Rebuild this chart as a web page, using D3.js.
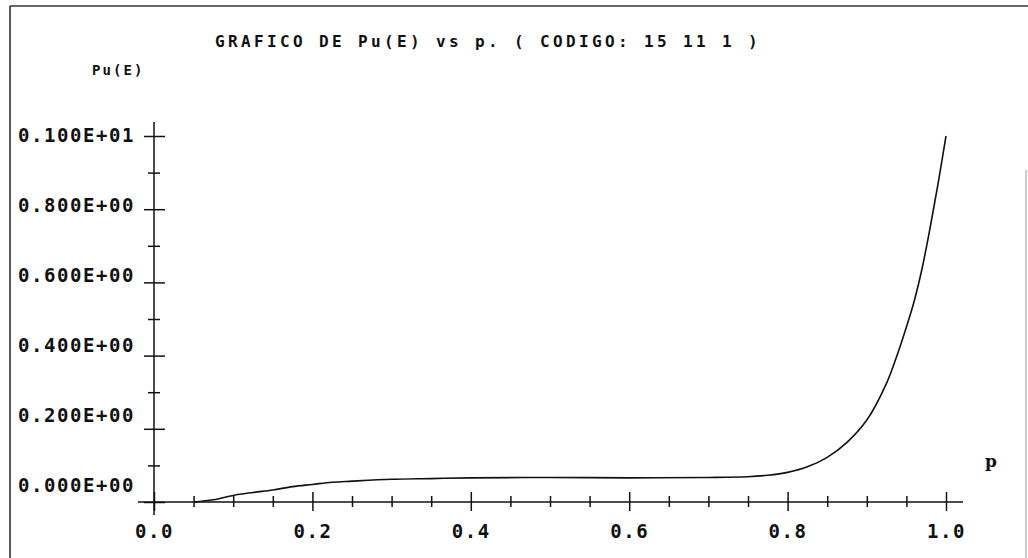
<!DOCTYPE html>
<html>
<head>
<meta charset="utf-8">
<script src="https://cdn.jsdelivr.net/npm/d3@7"></script>
<style>
	body { margin: 0; background: #fff; }
	svg { display: block; }
	text { font-family: "DejaVu Sans Mono", monospace; fill: #111; }
	.tick-label { font-size: 19px; font-weight: bold; letter-spacing: 1.56px; }
	.title { font-size: 16px; font-weight: bold; letter-spacing: 3.37px; }
	.ylab { font-size: 14px; font-weight: bold; letter-spacing: 2.1px; }
	.xlab { font-family: "DejaVu Serif", serif; font-size: 17px; font-weight: bold; }
</style>
</head>
<body>
<svg id="chart" width="1028" height="558"></svg>
<script>
// values
var pValues = [0.05, 0.075, 0.1, 0.125, 0.15, 0.175, 0.2, 0.225, 0.25, 0.3, 0.35, 0.4, 0.5, 0.6, 0.7, 0.75, 0.775, 0.8, 0.825, 0.85, 0.875, 0.9, 0.925, 0.94, 0.95, 0.96, 0.97, 0.98, 0.99, 1.0];
var puValues = [0.0, 0.006, 0.018, 0.026, 0.033, 0.042, 0.048, 0.054, 0.057, 0.062, 0.064, 0.066, 0.067, 0.066, 0.067, 0.069, 0.073, 0.081, 0.096, 0.122, 0.163, 0.224, 0.325, 0.412, 0.478, 0.55, 0.64, 0.75, 0.87, 1.0];
var xTicks = [0, 0.2, 0.4, 0.6, 0.8, 1.0];
var xTickLabels = ['0.0', '0.2', '0.4', '0.6', '0.8', '1.0'];
var yTicks = [0, 0.2, 0.4, 0.6, 0.8, 1.0];
var yTickLabels = ['0.000E+00', '0.200E+00', '0.400E+00', '0.600E+00', '0.800E+00', '0.100E+01'];
var titleText = 'GRAFICO DE Pu(E) vs p. ( CODIGO: 15 11 1 )';

var svg = d3.select('#chart');

var x = d3.scaleLinear().domain([0, 1]).range([154, 946]);
var y = d3.scaleLinear().domain([0, 1]).range([502, 136]);
// the old plotter put the labels on their own spacing
var yLab = d3.scaleLinear().domain([0, 1]).range([492, 142]);

// scanned frame
svg.append('line').attr('x1', 10).attr('y1', 6).attr('x2', 1028).attr('y2', 6)
	.attr('stroke', '#333').attr('stroke-width', 1.5);
svg.append('line').attr('x1', 10).attr('y1', 6).attr('x2', 10).attr('y2', 558)
	.attr('stroke', '#222').attr('stroke-width', 1.5);
svg.append('line').attr('x1', 1026).attr('y1', 170).attr('x2', 1026).attr('y2', 558)
	.attr('stroke', '#999').attr('stroke-width', 1);

svg.append('text').attr('class', 'title').attr('x', 215).attr('y', 47).text(titleText);
svg.append('text').attr('class', 'ylab').attr('x', 92).attr('y', 75).text('Pu(E)');
svg.append('text').attr('class', 'xlab').attr('x', 985).attr('y', 467).text('p');

// axes lines
svg.append('line').attr('x1', 138).attr('y1', y(0)).attr('x2', 963).attr('y2', y(0))
	.attr('stroke', '#111').attr('stroke-width', 1.5);
svg.append('line').attr('x1', x(0)).attr('y1', 122).attr('x2', x(0)).attr('y2', 515)
	.attr('stroke', '#111').attr('stroke-width', 1.5);

var xAxis = d3.axisBottom(x).tickValues(d3.range(0, 21).map(function (i) { return i / 20; }))
	.tickSize(0).tickFormat('');
var gx = svg.append('g').attr('transform', 'translate(0,' + y(0) + ')').call(xAxis);
gx.select('.domain').remove();
gx.selectAll('.tick line').remove();
gx.selectAll('.tick').append('line')
	.attr('y1', function (d, i) { return i % 4 === 0 ? -10 : -6; })
	.attr('y2', function (d, i) { return i % 4 === 0 ? 9 : 5; })
	.attr('stroke', '#111').attr('stroke-width', 1.5);

var yAxis = d3.axisLeft(y).tickValues(d3.range(0, 11).map(function (i) { return i / 10; }))
	.tickSize(0).tickFormat('');
var gy = svg.append('g').attr('transform', 'translate(' + x(0) + ',0)').call(yAxis);
gy.select('.domain').remove();
gy.selectAll('.tick line').remove();
gy.selectAll('.tick').append('line')
	.attr('x1', function (d, i) { return i % 2 === 0 ? -10 : -6; })
	.attr('x2', function (d, i) { return i % 2 === 0 ? 11 : 6; })
	.attr('stroke', '#111').attr('stroke-width', 1.5);

svg.selectAll('.xtl')
	.data(xTicks)
	.enter()
	.append('text')
	.attr('class', 'tick-label xtl')
	.attr('x', function (d) { return x(d) - 19; })
	.attr('y', 538)
	.text(function (d, i) { return xTickLabels[i]; });

svg.selectAll('.ytl')
	.data(yTicks)
	.enter()
	.append('text')
	.attr('class', 'tick-label ytl')
	.attr('x', 18)
	.attr('y', function (d) { return yLab(d); })
	.text(function (d, i) { return yTickLabels[i]; });

var line = d3.line()
	.x(function (d) { return x(d[0]); })
	.y(function (d) { return y(d[1]); })
	.curve(d3.curveCatmullRom);

svg.append('path')
	.datum(pValues.map(function (p, i) { return [p, puValues[i]]; }))
	.attr('d', line)
	.attr('fill', 'none')
	.attr('stroke', '#111')
	.attr('stroke-width', 1.6);
</script>
</body>
</html>
